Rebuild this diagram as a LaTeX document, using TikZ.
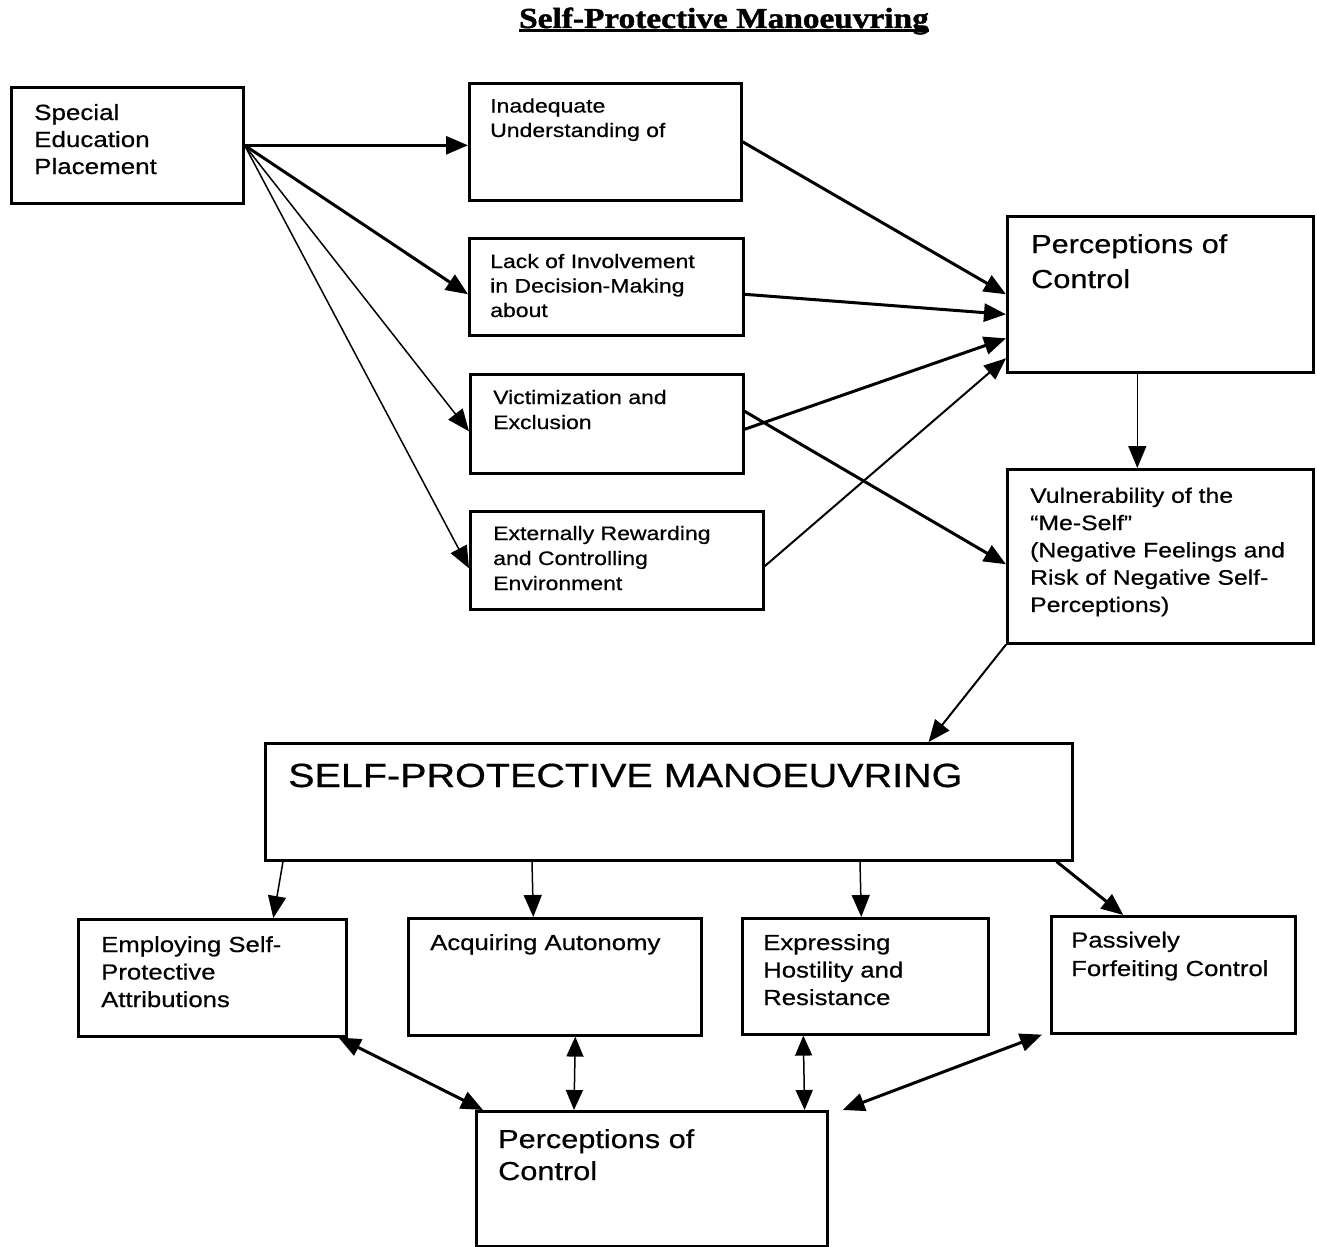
\documentclass[tikz,border=0pt]{standalone}
\usepackage{fontspec}
\setmainfont{Liberation Sans}[FakeStretch=1.18,FakeBold=0.6]
\newfontfamily\titlefont{Liberation Serif}[FakeStretch=1.15,FakeBold=1.5]
\usetikzlibrary{arrows.meta}
\tikzset{
  box/.style={draw, line width=2.6pt, inner sep=0pt, anchor=north west},
  txt/.style={inner sep=0pt, anchor=base west, align=left},
  tip/.style={-{Triangle[length=22pt,width=18pt]}},
  heavy/.style={tip, line width=3pt},
  light/.style={tip, line width=1.5pt},
  heavytwo/.style={{Triangle[length=22pt,width=18pt]}-{Triangle[length=22pt,width=18pt]}, line width=3pt},
  lighttwo/.style={{Triangle[length=20pt,width=17pt]}-{Triangle[length=20pt,width=17pt]}, line width=1.5pt}
}
\begin{document}
\begin{tikzpicture}[x=1pt,y=-1pt]
\useasboundingbox (0,0) rectangle (1317,1247);
\node[inner sep=0pt, anchor=base, font=\titlefont\bfseries\fontsize{29}{32}\selectfont] (title) at (724,28) {Self-Protective Manoeuvring};
\draw[line width=3pt] ([yshift=-3pt]title.base west) -- ([yshift=-3pt]title.base east);

% boxes
\node[box, minimum width=232, minimum height=116] (spec) at (10,86) {};
\node[box, minimum width=272, minimum height=117] (inad) at (468,82) {};
\node[box, minimum width=274, minimum height=97] (lack) at (468,237) {};
\node[box, minimum width=273, minimum height=99] (vict) at (469,373) {};
\node[box, minimum width=293, minimum height=98] (ext) at (469,510) {};
\node[box, minimum width=306, minimum height=156] (perc) at (1006,215) {};
\node[box, minimum width=306, minimum height=174] (vuln) at (1006,468) {};
\node[box, minimum width=807, minimum height=117] (spm) at (264,742) {};
\node[box, minimum width=268, minimum height=117] (emp) at (77,918) {};
\node[box, minimum width=293, minimum height=117] (acq) at (407,917) {};
\node[box, minimum width=246, minimum height=116] (exp) at (741,917) {};
\node[box, minimum width=244, minimum height=117] (pas) at (1050,915) {};
\node[box, minimum width=351, minimum height=135] (percb) at (475,1110) {};

% texts, placed at the baseline of their last line
\node[txt, font=\fontsize{22}{27}\selectfont] (spect) at (34,174) {Special\\Education\\Placement};
\node[txt, font=\fontsize{19.5}{24.5}\selectfont] (inadt) at (490,137) {Inadequate\\Understanding of};
\node[txt, font=\fontsize{19.5}{24.5}\selectfont] (lackt) at (490,317) {Lack of Involvement\\in Decision-Making\\about};
\node[txt, font=\fontsize{19.5}{25}\selectfont] (victt) at (493,429) {Victimization and\\Exclusion};
\node[txt, font=\fontsize{19.5}{25}\selectfont] (extt) at (493,590) {Externally Rewarding\\and Controlling\\Environment};
\node[txt, font=\fontsize{26}{35}\selectfont] (perct) at (1031,288) {Perceptions of\\Control};
\node[txt, font=\fontsize{21}{27.3}\selectfont] (vulnt) at (1030,612) {Vulnerability of the\\``Me-Self''\\(Negative Feelings and\\Risk of Negative Self-\\Perceptions)};
\node[txt, font=\fontsize{33.5}{38}\selectfont] (spmt) at (288,787) {SELF-PROTECTIVE MANOEUVRING};
\node[txt, font=\fontsize{21.8}{27.5}\selectfont] (empt) at (101,1007) {Employing Self-\\Protective\\Attributions};
\node[txt, font=\fontsize{21.8}{27.5}\selectfont] (acqt) at (430,950) {Acquiring Autonomy};
\node[txt, font=\fontsize{21.8}{27.5}\selectfont] (expt) at (763,1005) {Expressing\\Hostility and\\Resistance};
\node[txt, font=\fontsize{21.8}{28.5}\selectfont] (past) at (1071,976) {Passively\\Forfeiting Control};
\node[txt, font=\fontsize{26}{32}\selectfont] (percbt) at (498,1180) {Perceptions of\\Control};

% arrows
\draw[heavy] (spec.east) -- (spec.east -| inad.west);
\draw[heavy] (spec.east) -- ([yshift=-7.5pt]lack.west);
\draw[light] (spec.east) -- ([yshift=-7.5pt]vict.west);
\draw[light] (spec.east) -- ([yshift=-8pt]ext.west);
\draw[heavy] (inad.east) -- (perc.west);
\draw[heavy] ([yshift=-7.5pt]lack.east) -- ([yshift=-20pt]perc.west);
\draw[heavy] ([yshift=-5.5pt]vict.east) -- ([yshift=-44pt]perc.west);
\draw[light, line width=2pt] ([yshift=-6pt]ext.east) -- ([yshift=-64pt]perc.west);
\draw[heavy] ([yshift=12.5pt]vict.east) -- ([yshift=-8pt]vuln.west);
\draw[light] ([xshift=-23pt]perc.south) -- ([xshift=-23pt]vuln.north);
\draw[light, line width=2pt] (vuln.south west) -- ([xshift=-145pt]spm.north east);
\draw[light] ([xshift=19pt]spm.south west) -- ([xshift=61pt]emp.north);
\draw[light] ([xshift=268pt]spm.south west) -- ([xshift=-21.5pt]acq.north);
\draw[light] ([xshift=596pt]spm.south west) -- ([xshift=-4pt]exp.north);
\draw[heavy] ([xshift=-17pt]spm.south east) -- ([xshift=-50pt]pas.north);
\draw[heavytwo] ([xshift=-9pt]emp.south east) -- ([xshift=8pt]percb.north west);
\draw[lighttwo] ([xshift=20.5pt]acq.south) -- ([xshift=99pt]percb.north west);
\draw[lighttwo] ([xshift=-62pt]exp.south) -- ([xshift=-24pt]percb.north east);
\draw[heavytwo] ([xshift=-8pt]pas.south west) -- ([xshift=14pt]percb.north east);
\end{tikzpicture}
\end{document}
